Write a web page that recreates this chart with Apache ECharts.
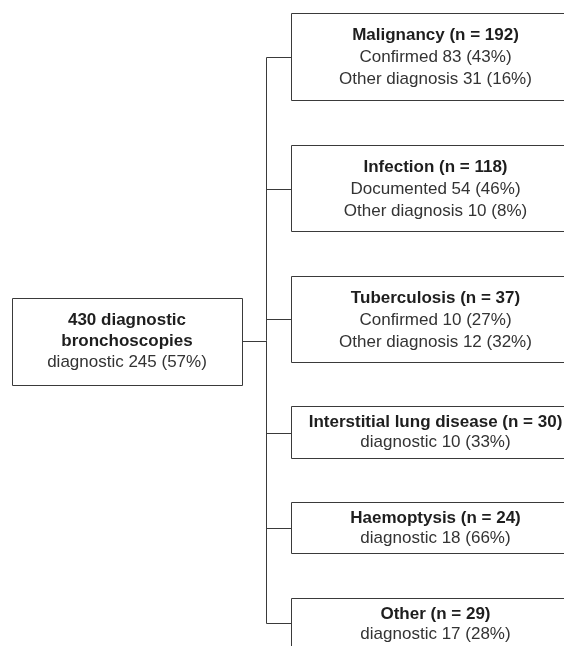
<!DOCTYPE html>
<html>
<head>
<meta charset="utf-8">
<script src="https://cdn.jsdelivr.net/npm/echarts@6/dist/echarts.min.js"></script>
<style>html,body{margin:0;padding:0;background:#fff}#c{width:564px;height:646px}</style>
</head>
<body>
<div id="c"></div>
<script>
// ---- data ----
var rootTitle = ['430 diagnostic', 'bronchoscopies'];
var rootSub = 'diagnostic 245 (57%)';
var categories = ['Malignancy', 'Infection', 'Tuberculosis', 'Interstitial lung disease', 'Haemoptysis', 'Other'];
var nValues = [192, 118, 37, 30, 24, 29];
var detailLines = [
  ['Confirmed 83 (43%)', 'Other diagnosis 31 (16%)'],
  ['Documented 54 (46%)', 'Other diagnosis 10 (8%)'],
  ['Confirmed 10 (27%)', 'Other diagnosis 12 (32%)'],
  ['diagnostic 10 (33%)'],
  ['diagnostic 18 (66%)'],
  ['diagnostic 17 (28%)']
];

// ---- layout (positions only) ----
var boxTop = [13, 145, 276, 406, 502, 598];
var boxBottom = [100, 231, 362, 458, 553, 670];
var linkY = [57, 189, 319, 433, 528, 623];
var childLeft = 291, childRight = 579;
var trunkX = 266;
var root = {x: 12, y: 298, w: 230, h: 87, linkY: 341};
var lineColor = '#3a3a3a';
var boldColor = '#1e1e1e';
var textColor = '#333';
var fontFamily = '"Liberation Sans", Arial, Helvetica, sans-serif';
var fs = 17;

var els = [];
function box(x, y, w, h) {
  els.push({type: 'rect', shape: {x: x + 0.5, y: y + 0.5, width: w, height: h},
    style: {fill: '#fff', stroke: lineColor, lineWidth: 1}});
}
function line(x1, y1, x2, y2) {
  els.push({type: 'line', shape: {x1: x1, y1: y1, x2: x2, y2: y2},
    style: {stroke: lineColor, lineWidth: 1}});
}
function txt(cx, cy, s, bold) {
  els.push({type: 'text', x: cx, y: cy, style: {text: s, fill: bold ? boldColor : textColor,
    font: (bold ? 'bold ' : '') + fs + 'px ' + fontFamily, align: 'center', verticalAlign: 'middle'}});
}

// root box
box(root.x, root.y, root.w, root.h);
var rcx = root.x + root.w / 2;
txt(rcx, root.y + 22, rootTitle[0], true);
txt(rcx, root.y + 43, rootTitle[1], true);
txt(rcx, root.y + 64, rootSub, false);
line(root.x + root.w, root.linkY + 0.5, trunkX + 0.5, root.linkY + 0.5);

// trunk
line(trunkX + 0.5, linkY[0] + 0.5, trunkX + 0.5, linkY[linkY.length - 1] + 0.5);

for (var i = 0; i < categories.length; i++) {
  var t = boxTop[i], b = boxBottom[i];
  box(childLeft, t, childRight - childLeft, b - t);
  line(trunkX + 0.5, linkY[i] + 0.5, childLeft, linkY[i] + 0.5);
  var cx = (childLeft + childRight) / 2 + 0.5;
  var two = detailLines[i].length === 1;
  var cy = two ? t + 16 : t + 22;
  var step = two ? 20 : 22;
  txt(cx, cy, categories[i] + ' (n = ' + nValues[i] + ')', true);
  for (var k = 0; k < detailLines[i].length; k++) {
    txt(cx, cy + step * (k + 1), detailLines[i][k], false);
  }
}

var chart = echarts.init(document.getElementById('c'), null, {renderer: 'canvas'});
chart.setOption({backgroundColor: '#fff', animation: false, graphic: {elements: els}});
</script>
</body>
</html>
